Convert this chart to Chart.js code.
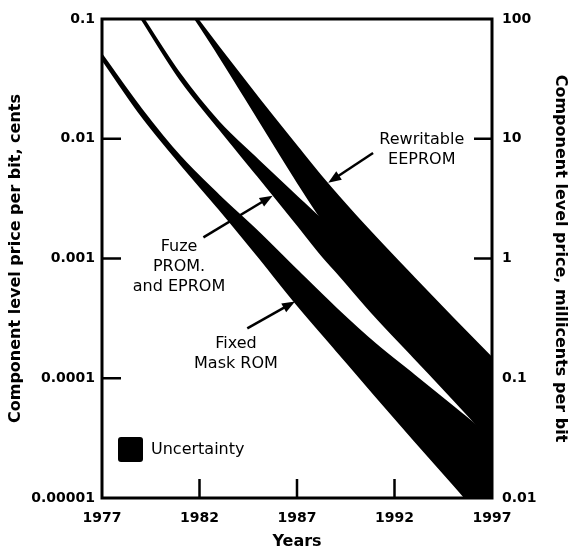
<!DOCTYPE html>
<html>
<head>
<meta charset="utf-8">
<script src="https://cdn.jsdelivr.net/npm/chart.js@4.4.0/dist/chart.umd.min.js"></script>
<style>
  html, body { margin: 0; padding: 0; background: #fff; }
  #wrap { width: 570px; height: 557px; }
</style>
</head>
<body>
<div id="wrap"><canvas id="romChart"></canvas></div>
<script>
// band edges (cents per bit)
const fixedYears = [1977, 1979, 1981, 1983, 1985, 1987, 1989, 1991, 1993, 1995, 1996.6, 1997];
const fixedLow  = [0.0464, 0.0158, 0.00626, 0.00261, 0.00105, 0.000414, 0.000173, 0.0000724, 0.0000306, 0.0000131, 0.00000668, 0.00000575];
const fixedHigh = [0.0501, 0.0178, 0.00711, 0.00335, 0.001667, 0.000794, 0.000383, 0.000194, 0.000106, 0.0000579, 0.0000355, 0.0000318];

const fuzeYears = [1978.5, 1979, 1981, 1983, 1985, 1987, 1988.4, 1989, 1991, 1993, 1995, 1996.6, 1997];
const fuzeLow  = [0.137, 0.102, 0.0316, 0.01226, 0.00489, 0.001935, 0.001006, 0.000785, 0.000332, 0.0001496, 0.0000675, 0.0000355, 0.0000308];
const fuzeHigh = [0.1437, 0.108, 0.0346, 0.0137, 0.00663, 0.00327, 0.002, 0.00163, 0.000818, 0.000407, 0.000199, 0.000112, 0.000098];

const eepromYears = [1981.5, 1983, 1985, 1987, 1988.4, 1990, 1993, 1995, 1997];
const eepromLow  = [0.118, 0.0497, 0.01485, 0.00443, 0.002, 0.000944, 0.000256, 0.000119, 0.0000552];
const eepromHigh = [0.121, 0.0578, 0.02197, 0.0086, 0.00451, 0.00228, 0.000688, 0.000316, 0.000147];

const yearTicks = [1977, 1982, 1987, 1992, 1997];
const leftTicks = [0.1, 0.01, 0.001, 0.0001, 0.00001];
const leftTickLabels = ['0.1', '0.01', '0.001', '0.0001', '0.00001'];
const rightTicks = [100, 10, 1, 0.1, 0.01];
const rightTickLabels = ['100', '10', '1', '0.1', '0.01'];

// short tick marks drawn inside the frame
const yearInner = [1982, 1987, 1992];
const leftInner = [0.01, 0.001, 0.0001];
const rightInner = [10, 1, 0.1];

// callouts: text anchor and arrow, in data units
const notes = [
    { lines: ['Rewritable', 'EEPROM'], at: [1993.4, 0.0098], from: [1990.9, 0.0076], to: [1988.6, 0.0043] },
    { lines: ['Fuze', 'PROM.', 'and EPROM'], at: [1980.95, 0.00126], from: [1982.2, 0.0015], to: [1985.75, 0.00335] },
    { lines: ['Fixed', 'Mask ROM'], at: [1983.87, 0.000192], from: [1984.45, 0.000261], to: [1986.9, 0.000438] }
];

function pts(years, vals) {
    return years.map((yr, i) => ({ x: yr, y: vals[i] }));
}

function edge(label, data, fill) {
    return {
        label: label,
        data: data,
        fill: fill,
        backgroundColor: '#000',
        borderColor: '#000',
        borderWidth: 2,
        pointRadius: 0,
        cubicInterpolationMode: 'monotone'
    };
}

const tickFont = { family: 'DejaVu Sans', weight: 'bold', size: 14 };
const titleFont = { family: 'DejaVu Sans', weight: 'bold', size: 16 };

const extras = {
    id: 'extras',
    afterDatasetsDraw(chart) {
        const ctx = chart.ctx;
        const a = chart.chartArea;
        const xs = chart.scales.x, ys = chart.scales.y, y2 = chart.scales.y2;
        ctx.save();
        ctx.strokeStyle = '#000';
        ctx.fillStyle = '#000';
        ctx.lineWidth = 3;
        ctx.strokeRect(a.left, a.top, a.right - a.left, a.bottom - a.top);

        ctx.lineWidth = 2.5;
        ctx.beginPath();
        yearInner.forEach(v => {
            const px = xs.getPixelForValue(v);
            ctx.moveTo(px, a.bottom);
            ctx.lineTo(px, a.bottom - 19);
        });
        leftInner.forEach(v => {
            const py = ys.getPixelForValue(v);
            ctx.moveTo(a.left, py);
            ctx.lineTo(a.left + 19, py);
        });
        rightInner.forEach(v => {
            const py = y2.getPixelForValue(v);
            ctx.moveTo(a.right, py);
            ctx.lineTo(a.right - 18, py);
        });
        ctx.stroke();

        // callouts
        ctx.font = '16px "DejaVu Sans"';
        ctx.textAlign = 'center';
        ctx.textBaseline = 'middle';
        notes.forEach(n => {
            const cx = xs.getPixelForValue(n.at[0]);
            const cy = ys.getPixelForValue(n.at[1]);
            n.lines.forEach((t, i) => ctx.fillText(t, cx, cy + i * 20));
            const x0 = xs.getPixelForValue(n.from[0]), y0 = ys.getPixelForValue(n.from[1]);
            const x1 = xs.getPixelForValue(n.to[0]), y1 = ys.getPixelForValue(n.to[1]);
            const ang = Math.atan2(y1 - y0, x1 - x0);
            ctx.lineWidth = 2.5;
            ctx.beginPath();
            ctx.moveTo(x0, y0);
            ctx.lineTo(x1 - 8 * Math.cos(ang), y1 - 8 * Math.sin(ang));
            ctx.stroke();
            ctx.beginPath();
            ctx.moveTo(x1, y1);
            ctx.lineTo(x1 - 13 * Math.cos(ang) + 5 * Math.sin(ang), y1 - 13 * Math.sin(ang) - 5 * Math.cos(ang));
            ctx.lineTo(x1 - 13 * Math.cos(ang) - 5 * Math.sin(ang), y1 - 13 * Math.sin(ang) + 5 * Math.cos(ang));
            ctx.closePath();
            ctx.fill();
        });

        // legend box
        const lx = a.left + 16, ly = a.bottom - 61;
        ctx.beginPath();
        ctx.roundRect(lx, ly, 25, 25, 3);
        ctx.fill();
        ctx.textAlign = 'left';
        ctx.fillText('Uncertainty', lx + 33, ly + 13);
        ctx.restore();
    }
};

new Chart(document.getElementById('romChart'), {
    type: 'line',
    data: {
        datasets: [
            edge('Fixed Mask ROM high', pts(fixedYears, fixedHigh), '+1'),
            edge('Fixed Mask ROM low', pts(fixedYears, fixedLow), false),
            edge('Fuze PROM high', pts(fuzeYears, fuzeHigh), '+1'),
            edge('Fuze PROM low', pts(fuzeYears, fuzeLow), false),
            edge('EEPROM high', pts(eepromYears, eepromHigh), '+1'),
            edge('EEPROM low', pts(eepromYears, eepromLow), false)
        ]
    },
    options: {
        responsive: true,
        maintainAspectRatio: false,
        animation: false,
        layout: { padding: { top: 19 } },
        plugins: {
            legend: { display: false },
            tooltip: { enabled: false }
        },
        scales: {
            x: {
                type: 'linear',
                position: 'bottom',
                min: 1977,
                max: 1997,
                afterBuildTicks: s => { s.ticks = yearTicks.map(v => ({ value: v })); },
                afterFit: s => { s.height = 59; },
                ticks: {
                    callback: v => String(v),
                    font: tickFont,
                    color: '#000',
                    padding: 12,
                    maxRotation: 0,
                    autoSkip: false
                },
                grid: { display: false, drawTicks: false },
                border: { display: false },
                title: { display: true, text: 'Years', font: titleFont, color: '#000', padding: { top: 0, bottom: 6 } }
            },
            y: {
                type: 'logarithmic',
                position: 'left',
                min: 0.00001,
                max: 0.1,
                afterBuildTicks: s => { s.ticks = leftTicks.map(v => ({ value: v })); },
                afterFit: s => { s.width = 102; },
                ticks: {
                    callback: v => leftTickLabels[leftTicks.indexOf(v)],
                    font: tickFont,
                    color: '#000',
                    padding: 7,
                    autoSkip: false
                },
                grid: { display: false, drawTicks: false },
                border: { display: false },
                title: { display: true, text: 'Component level price per bit, cents', font: titleFont, color: '#000', padding: { top: 6, bottom: 0 } }
            },
            y2: {
                type: 'logarithmic',
                position: 'right',
                min: 0.01,
                max: 100,
                afterBuildTicks: s => { s.ticks = rightTicks.map(v => ({ value: v })); },
                afterFit: s => { s.width = 78; },
                ticks: {
                    callback: v => rightTickLabels[rightTicks.indexOf(v)],
                    font: tickFont,
                    color: '#000',
                    padding: 10,
                    autoSkip: false
                },
                grid: { display: false, drawTicks: false },
                border: { display: false },
                title: { display: true, text: 'Component level price, millicents per bit', font: titleFont, color: '#000', padding: { top: 0, bottom: 0 } }
            }
        }
    },
    plugins: [extras]
});
</script>
</body>
</html>
